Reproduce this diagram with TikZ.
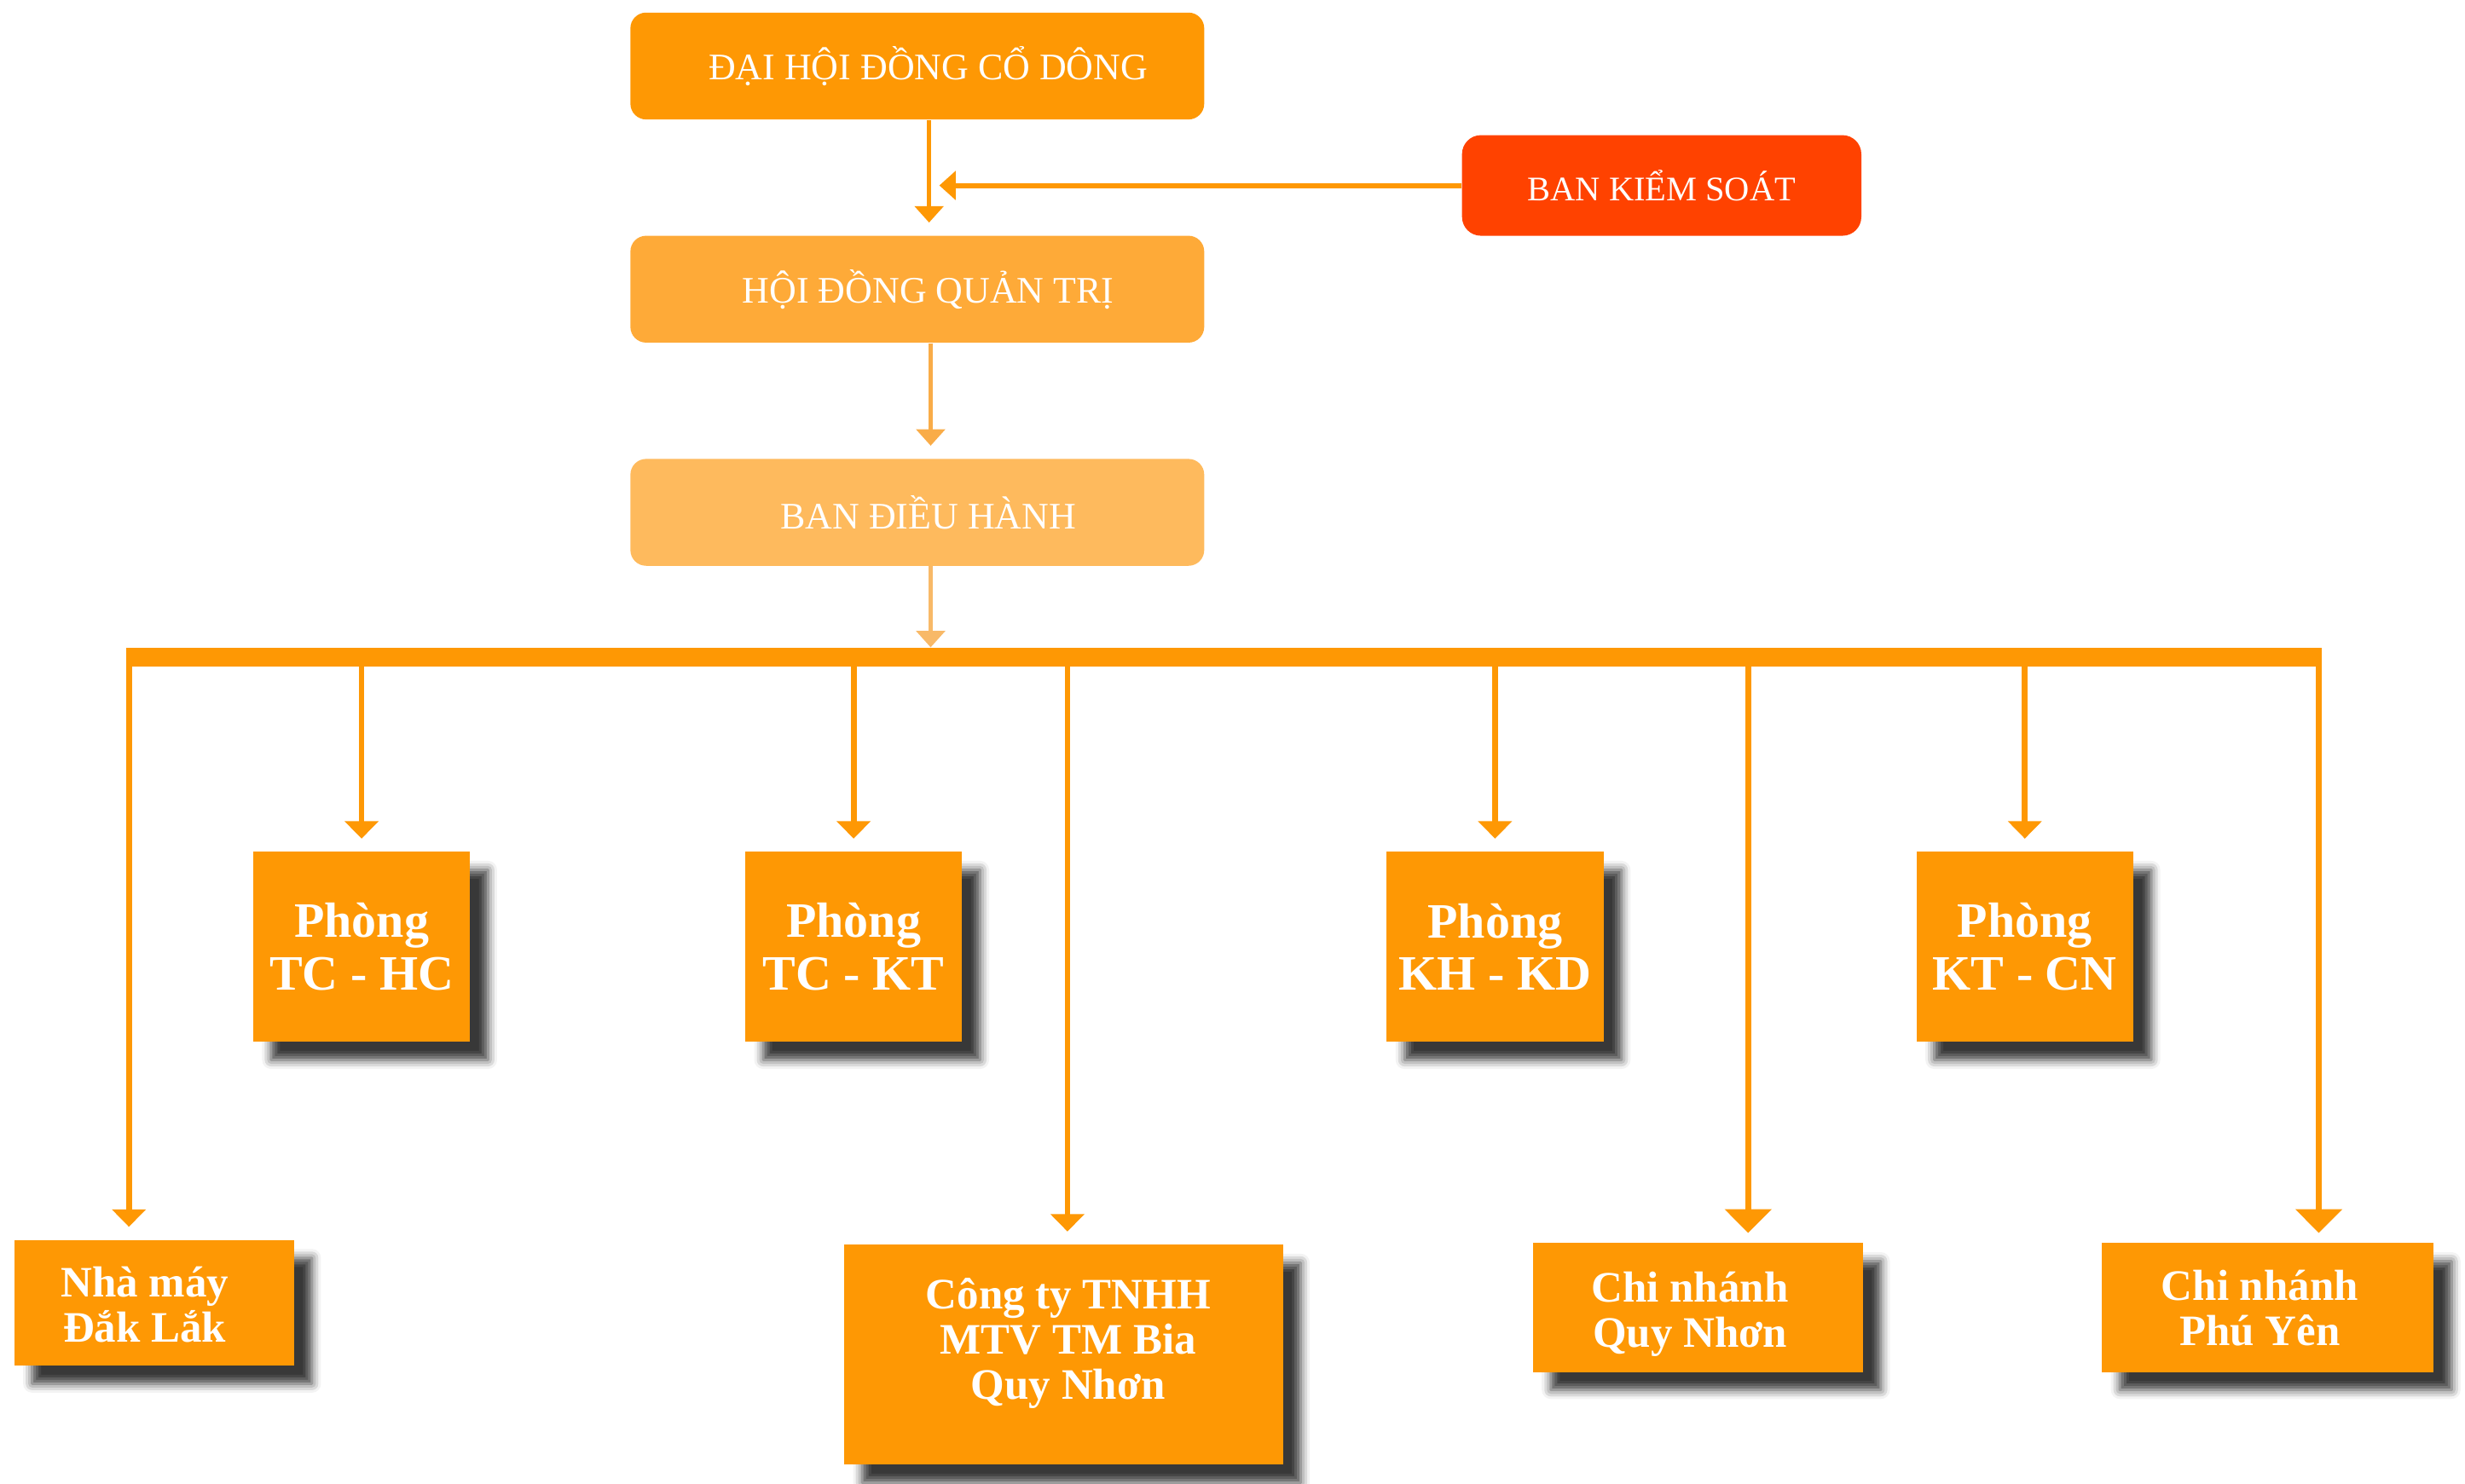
\documentclass[tikz,border=0pt]{standalone}
\usepackage{fontspec}
\setmainfont{Liberation Serif}
\usetikzlibrary{arrows.meta, positioning, shadows.blur}

\newlength\pxu
\setlength\pxu{0.018438cm}
\newcommand\dichchu[3]{\hspace*{#1}\raisebox{#2}[\height][\depth]{\begin{tabular}{@{}c@{}}#3\end{tabular}}}

\definecolor{cam}{HTML}{FE9804}
\definecolor{camhdqt}{HTML}{FEAA38}
\definecolor{cambdh}{HTML}{FEBA5D}
\definecolor{dobks}{HTML}{FF4200}
\definecolor{muiten2}{HTML}{F9AC48}
\definecolor{muiten3}{HTML}{F8B968}

\begin{document}
\begin{tikzpicture}[x=0.018438cm, y=-0.018438cm,
  topbox/.style={rounded corners=10\pxu, minimum width=365\pxu, minimum height=68\pxu,
    inner sep=0pt, text=white, font=\fontsize{12.5}{14}\selectfont},
  bongmo/.style={blur shadow={shadow xshift=6pt, shadow yshift=-6pt,
    shadow blur radius=3pt, shadow opacity=78}},
  phong/.style={fill=cam, bongmo, minimum width=138\pxu, minimum height=121\pxu,
    inner sep=0pt, text=white, align=center, font=\bfseries\fontsize{16.5}{17.5}\selectfont},
  donvi/.style={fill=cam, bongmo, inner sep=0pt, text=white, align=center,
    font=\bfseries\fontsize{14.5}{15}\selectfont},
  tipnho/.style={-{Triangle[width=9.5pt,length=5.5pt]}},
  drop/.style={draw=cam, line width=1.9pt, -{Triangle[width=11pt,length=5.8pt]}, shorten >=4.2pt},
  droplon/.style={drop, -{Triangle[width=15.2pt,length=7.9pt]}, shorten >=3.2pt}]

  \useasboundingbox (0,0) rectangle (1568,944);

  \node[topbox, fill=cam] (dhcd) at (583.5,42) {\hspace*{14\pxu}ĐẠI HỘI ĐỒNG CỔ DÔNG};
  \node[topbox, fill=camhdqt] (hdqt) at (583.5,184) {\hspace*{14\pxu}HỘI ĐỒNG QUẢN TRỊ};
  \node[topbox, fill=cambdh] (bdh) at (583.5,326) {\hspace*{14\pxu}BAN ĐIỀU HÀNH};
  \node[topbox, fill=dobks, rounded corners=12\pxu, minimum width=254\pxu, minimum height=64\pxu,
    font=\fontsize{11.5}{13}\selectfont] (bks) at (1057,118) {BAN KIỂM SOÁT};

  \draw[cam, line width=1.6pt, tipnho, shorten >=4.2pt] ([xshift=7.5\pxu]dhcd.south) -- ([xshift=7.5\pxu]hdqt.north);
  \draw[cam, line width=1.7pt, tipnho] (bks.west) -- ([xshift=14\pxu]dhcd.south |- bks.west);
  \draw[muiten2, line width=1.6pt, tipnho, shorten >=4.2pt] ([xshift=8.5\pxu]hdqt.south) -- ([xshift=8.5\pxu]bdh.north);

  \coordinate (busL) at (80,418);
  \coordinate (busR) at (1477,418);
  \draw[muiten3, line width=1.6pt, tipnho] ([xshift=8.5\pxu]bdh.south) -- ([xshift=8.5\pxu,yshift=3.2pt]bdh.south |- busL);

  \node[phong] (tchc) at (230,602.5) {Phòng\\TC - HC};
  \node[phong] (tckt) at (543,602.5) {Phòng\\TC - KT};
  \node[phong] (khkd) at (951,602.5) {Phòng\\KH - KD};
  \node[phong] (ktcn) at (1288,602.5) {Phòng\\KT - CN};

  \node[donvi, minimum width=178\pxu, minimum height=80\pxu] (nmdl) at (98,829) {\dichchu{-12\pxu}{-2.6pt}{Nhà máy\\Đắk Lắk}};
  \node[donvi, minimum width=279\pxu, minimum height=140\pxu] (ctqn) at (676.5,862) {\dichchu{6\pxu}{3.2pt}{Công ty TNHH\\MTV TM Bia\\Quy Nhơn}};
  \node[donvi, minimum width=210\pxu, minimum height=82\pxu] (cnqn) at (1080,832) {\dichchu{-10\pxu}{-2.6pt}{Chi nhánh\\Quy Nhơn}};
  \node[donvi, minimum width=211\pxu, minimum height=82\pxu] (cnpy) at (1442.5,832) {\dichchu{-10\pxu}{-2.1pt}{Chi nhánh\\Phú Yên}};

  \coordinate (d1) at (82,418);
  \coordinate (d2) at (679,418);
  \coordinate (d3) at (1112,418);
  \coordinate (d4) at (1475,418);

  \foreach \n in {tchc,tckt,khkd,ktcn}
    \draw[drop] (\n |- busL) -- (\n.north);
  \draw[drop] (d1) -- (d1 |- nmdl.north);
  \draw[drop] (d2) -- (d2 |- ctqn.north);
  \draw[droplon] (d3) -- (d3 |- cnqn.north);
  \draw[droplon] (d4) -- (d4 |- cnpy.north);

  \draw[cam, line width=6.3pt] (busL) -- (busR);
\end{tikzpicture}
\end{document}
